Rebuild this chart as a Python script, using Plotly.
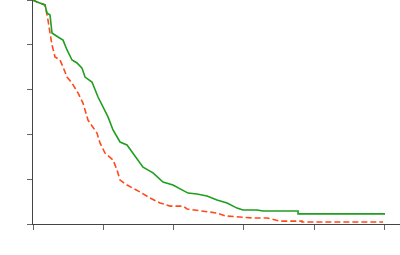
import plotly.graph_objects as go

green_t = [0, 0.57, 1.71, 1.99, 2.42, 2.70, 3.56, 4.27, 4.84, 5.55, 6.26, 6.97, 7.40, 8.39, 9.25,
           10.0, 10.67, 11.38, 12.38, 13.37, 14.22, 15.22, 15.65, 17.07, 18.49, 19.91, 21.34, 22.05,
           23.33, 24.75, 26.17, 27.60, 29.02, 29.87, 31.86, 32.72, 37.70, 37.70, 50.07]
green_s = [1.0, 0.991, 0.978, 0.942, 0.933, 0.853, 0.835, 0.821, 0.777, 0.732, 0.719, 0.696, 0.656,
           0.634, 0.567, 0.52, 0.478, 0.420, 0.366, 0.353, 0.317, 0.277, 0.254, 0.228, 0.1875, 0.174,
           0.152, 0.138, 0.134, 0.125, 0.107, 0.094, 0.071, 0.0625, 0.0625, 0.058, 0.058, 0.045, 0.045]

red_t = [0, 0.57, 1.71, 1.99, 2.13, 2.42, 2.70, 3.13, 3.84, 4.27, 4.84, 5.55, 6.40, 7.11, 7.68, 7.82, 9.10,
         9.53, 10.24, 11.38, 11.95, 12.38, 13.37, 14.79, 15.22, 16.64, 18.07, 19.49, 21.34, 21.91,
         24.18, 26.17, 27.31, 29.87, 31.29, 33.29, 34.14, 35.14, 38.26, 38.26, 49.79]
red_s = [1.0, 0.991, 0.978, 0.942, 0.911, 0.853, 0.80, 0.746, 0.732, 0.701, 0.656, 0.629, 0.585, 0.540, 0.478,
         0.464, 0.406, 0.362, 0.317, 0.286, 0.241, 0.196, 0.174, 0.152, 0.143, 0.116, 0.094, 0.080,
         0.080, 0.067, 0.058, 0.049, 0.036, 0.031, 0.027, 0.027, 0.022, 0.013, 0.013, 0.009, 0.009]

x_ticks = [0, 10, 20, 30, 40, 50]
y_ticks = [0, 0.2, 0.4, 0.6, 0.8, 1.0]

fig = go.Figure()
fig.add_trace(go.Scatter(x=red_t, y=red_s, mode="lines", line_shape="linear",
                         line=dict(color="#ff4a1c", width=1.6, dash="6px,3px")))
fig.add_trace(go.Scatter(x=green_t, y=green_s, mode="lines", line_shape="linear",
                         line=dict(color="#1f9e1f", width=1.6)))

axis_common = dict(showgrid=False, zeroline=False, showline=True, linecolor="#444444",
                   linewidth=1, ticks="outside", ticklen=5, tickcolor="#666666",
                   tickwidth=1, showticklabels=False)
fig.update_xaxes(range=[0, 52.2], tickvals=x_ticks, **axis_common)
fig.update_yaxes(range=[0, 1.0], tickvals=y_ticks, **axis_common)
fig.update_layout(width=400, height=255, margin=dict(l=33, r=0, t=0, b=31),
                  paper_bgcolor="white", plot_bgcolor="white", showlegend=False)
fig.update_traces(cliponaxis=False)
fig.write_html("out.html")
